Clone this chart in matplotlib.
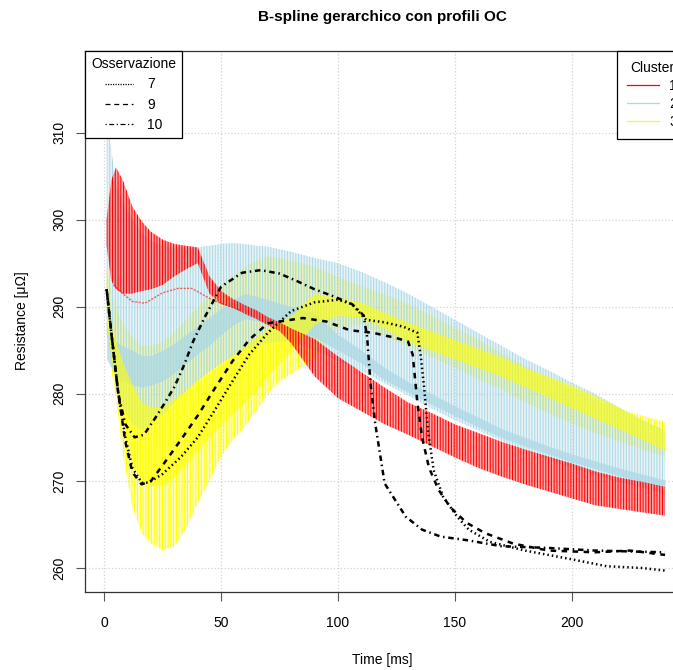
import matplotlib
matplotlib.use("Agg")
import matplotlib.pyplot as plt
from matplotlib.colors import to_rgba
from matplotlib.lines import Line2D

plt.rcParams["font.family"] = ["Liberation Sans", "DejaVu Sans"]
plt.rcParams["hatch.linewidth"] = 0.75

# common time grid for the cluster envelopes (ms)
t_grid = [1, 3, 5, 8, 12, 16, 20, 25, 30, 35, 40, 45, 50, 55, 60, 65, 70, 75, 80,
          90, 100, 110, 120, 130, 140, 150, 160, 170, 180, 190, 200, 210, 220, 230, 240]

# cluster 1 (red)
c1_lo = [297, 293, 292, 291.5, 291.5, 291.8, 292, 292.5, 293.5, 294.3, 295, 291.5, 290.3, 289.9,
         289.2, 288.6, 287.9, 287.2, 285.8, 282, 279.5, 278, 276.5, 275.3, 274, 272.7, 271.5, 270.5,
         269.6, 268.8, 268, 267.2, 266.8, 266.4, 266]
c1_hi = [300, 304.5, 306, 304.5, 301.5, 299.8, 298.6, 297.7, 297.2, 297, 296.8, 293.5, 291.8, 290.9,
         290.2, 289.6, 288.8, 288.2, 287.5, 286.3, 284.3, 282.5, 280.7, 279, 277.8, 276.5, 275.5,
         274.5, 273.6, 272.8, 272, 271.1, 270.4, 269.9, 269.3]
# thin red trace running under the early red block
c1_line_t = [4, 7.5, 12, 17.5, 25, 31.5, 37.5, 46, 58]
c1_line_y = [292.5, 291.6, 290.6, 290.4, 291.6, 292.1, 292.1, 290.8, 289.6]

# cluster 2 (light blue)
c2_lo = [287, 284, 281, 278.5, 276.5, 275.8, 276.5, 277.5, 279, 280.3, 281.5, 282.5, 283.5, 284.3,
         285, 285.5, 285.8, 286, 286, 285, 283.8, 282.6, 281.2, 279.8, 278.3, 277, 275.8, 274.6,
         273.5, 272.5, 271.5, 270.7, 269.9, 269.2, 268.5]
c2_hi = [312, 308, 304, 302, 300, 298.5, 297.5, 297, 296.8, 296.8, 296.8, 297, 297.2, 297.3, 297.2,
         297, 296.9, 296.6, 296.3, 295.6, 295, 294, 292.8, 291.5, 290, 288.5, 287, 285.5, 284,
         282.7, 281.3, 280, 278.5, 277, 275.8]
c2_core_lo = [284, 283, 282, 281.5, 281, 280.8, 281, 281.5, 282.4, 283.5, 284.6, 285.6, 286.8, 287.9,
              288.6, 288.4, 288, 287.6, 287.2, 286.5, 285, 283.5, 281.6, 280.2, 278.8, 277.5, 276.2,
              275, 274, 273.1, 272.2, 271.4, 270.6, 269.9, 269.2]
c2_core_hi = [288, 287, 286, 285.5, 285, 284.4, 284.4, 285, 285.8, 286.8, 287.8, 288.8, 289.8, 290.8,
              291.5, 291.2, 290.8, 290.4, 290, 289.2, 286.8, 285, 283, 281.4, 280, 278.6, 277.3, 276,
              275, 274, 273.1, 272.3, 271.5, 270.8, 270.1]

# cluster 3 (yellow)
c3_lo = [290, 283, 279.5, 273, 267, 264, 262.8, 262, 262.5, 264.5, 267.5, 270, 272.8, 274.7, 276.2,
         278, 280, 281.4, 282.3, 284, 287.5, 288, 286.5, 285.5, 284.2, 283, 281.7, 280.5, 279,
         277.8, 276.6, 275.5, 274.5, 273.6, 272.8]
c3_hi = [294.5, 292, 290, 288, 286.5, 285.5, 285.5, 286, 287, 288.5, 290, 291.2, 292.5, 293.5, 294.5,
         295.3, 295.8, 295.6, 295.3, 294.6, 293.4, 292.4, 291.4, 290.3, 289, 287.6, 286.2, 284.7,
         283.2, 281.8, 280.5, 279.2, 278.3, 277.5, 276.8]
c3_core_lo = [288, 284, 281, 277, 272, 270, 269.5, 269.5, 270.5, 272, 273.5, 275, 276.5, 277.8, 279,
              280.5, 282, 283.5, 285, 288, 289, 288.8, 287.5, 286, 285, 284, 283, 282, 280.8, 279.6,
              278.4, 277.2, 276, 274.8, 273.5]
c3_core_hi = [291, 288, 286, 283.5, 281, 279, 278.5, 278.5, 279.5, 280.5, 281.5, 282.5, 283.5, 284.5,
              285.5, 286.5, 287.5, 288.3, 289, 291.5, 291, 290.5, 289.3, 288.2, 287.2, 286.2, 285.2,
              284.2, 283, 282, 281, 279.8, 278.5, 277, 275.8]

# observations
t_obs7 = [1, 3, 6, 9, 12, 16, 19, 25, 33, 40, 47, 55, 62, 70, 80, 90, 100, 106, 112, 120, 128, 134,
          135.5, 137, 138.5, 141, 145, 151, 156, 165, 180, 200, 215, 230, 240]
y_obs7 = [292, 287, 280, 275, 271.5, 269.8, 269.8, 270.8, 272.8, 275, 278, 281.5, 284.5, 287, 289.5,
          290.5, 290.8, 290.3, 288.5, 288.2, 287.7, 287, 284.2, 280.4, 275.8, 271.2, 268.2, 265.9,
          264.4, 263, 262, 261, 260.2, 260, 259.7]
t_obs9 = [1, 3, 6, 9, 12, 16, 20, 25, 33, 40, 47, 55, 62, 70, 85, 95, 105, 115, 125, 130, 132, 134,
          136, 139, 143, 148, 155, 163, 175, 190, 210, 225, 240]
y_obs9 = [292, 287, 280, 274.5, 271, 269.6, 270, 271.8, 274.8, 277.5, 280.5, 283.8, 286.2, 288.1,
          288.7, 288.3, 287.3, 287, 286.4, 286, 284.5, 279, 275, 271.5, 269, 267, 265.2, 264, 262.8,
          262, 261.8, 262, 261.5]
t_obs10 = [1, 3, 6, 9, 13, 17, 22, 26, 30, 34, 38, 43, 50, 59, 67, 75, 82, 90, 98, 106, 111, 112.5,
           114, 116, 120, 129, 136, 144, 155, 170, 190, 210, 240]
y_obs10 = [292, 287, 280, 276.5, 275, 275.3, 277.3, 279, 280.8, 283.2, 286, 288.8, 292.3, 293.9,
           294.2, 293.8, 293, 292, 291.2, 290.3, 289, 286.5, 281, 276.5, 269.7, 265.9, 264.4, 263.6,
           263.2, 262.5, 262.3, 262, 261.8]

obs_labels = ["7", "9", "10"]
cluster_labels = ["1", "2", "3"]


def band(ax, lo, hi, color, face_alpha, hatch, z):
    # striped band: light face plus vertical hatch in the cluster colour
    ax.fill_between(t_grid, lo, hi, facecolor=to_rgba(color, face_alpha),
                    edgecolor=to_rgba(color, 1.0), hatch=hatch, linewidth=0, zorder=z)


fig = plt.figure(figsize=(6.73, 6.70), dpi=100)
ax = fig.add_axes([0.1263, 0.1164, 0.8945, 0.8075])

band(ax, c3_lo, c3_hi, "yellow", 0.25, "||||||", 1)
band(ax, c2_lo, c2_hi, "lightblue", 0.3, "||||||", 2)
ax.fill_between(t_grid, c2_core_lo, c2_core_hi, color="lightblue", alpha=0.75, lw=0, zorder=3)
ax.fill_between(t_grid, c3_core_lo, c3_core_hi, color="yellow", alpha=0.6, lw=0, zorder=4)
band(ax, c1_lo, c1_hi, "red", 0.35, "||||||", 5)
ax.plot(c1_line_t, c1_line_y, color="red", lw=1.0, alpha=0.6, linestyle=(0, (1.5, 1)), zorder=5)

ax.plot(t_obs7, y_obs7, color="black", lw=1.8, linestyle=(0, (0.6, 1.2)), zorder=6)
ax.plot(t_obs9, y_obs9, color="black", lw=1.8, linestyle=(0, (2.2, 2.2)), zorder=6)
ax.plot(t_obs10, y_obs10, color="black", lw=1.8, linestyle=(0, (0.6, 1.5, 2.2, 1.5)), zorder=6)

ax.set_xlim(-8.26, 249.4)
ax.set_ylim(257.24, 319.36)
ax.set_xticks([0, 50, 100, 150, 200])
ax.set_yticks([260, 270, 280, 290, 300, 310])
ax.set_yticklabels(["260", "270", "280", "290", "300", "310"], rotation=90, va="center")
ax.tick_params(axis="both", length=6.5, width=0.8, color="#555555", labelsize=10)
ax.tick_params(axis="x", pad=11)
ax.tick_params(axis="y", pad=7)
ax.grid(color="lightgray", linestyle=":", linewidth=0.9)
ax.set_axisbelow(True)
for s in ax.spines.values():
    s.set_linewidth(0.9)
    s.set_color("#333333")

obs_handles = [
    Line2D([], [], color="black", lw=0.9, linestyle=(0, (1, 1))),
    Line2D([], [], color="black", lw=0.9, linestyle=(0, (4, 3))),
    Line2D([], [], color="black", lw=0.9, linestyle=(0, (1, 2, 4, 2))),
]
leg1 = ax.legend(obs_handles, obs_labels, title="Osservazione", loc="upper left",
                 fancybox=False, framealpha=1, edgecolor="black", borderaxespad=0,
                 handlelength=2.0, handletextpad=1.0, fontsize=10, title_fontsize=10,
                 borderpad=0.45, labelspacing=0.45)
leg1.get_frame().set_linewidth(0.9)
leg1.set_zorder(10)
ax.add_artist(leg1)

cl_handles = [
    Line2D([], [], color="red", lw=0.9),
    Line2D([], [], color="lightblue", lw=0.9),
    Line2D([], [], color="yellow", lw=0.9),
]
leg2 = ax.legend(cl_handles, cluster_labels, title="Cluster", loc="upper right",
                 fancybox=False, framealpha=1, edgecolor="black", borderaxespad=0,
                 handlelength=2.3, handletextpad=0.75, fontsize=10, title_fontsize=10,
                 borderpad=0.7, labelspacing=0.3)
leg2.get_frame().set_linewidth(0.9)
leg2.set_zorder(10)

fig.text(382 / 673, 1 - 17 / 670, "B-spline gerarchico con profili OC",
         ha="center", va="center", fontsize=11, fontweight="bold")
fig.text(382 / 673, 1 - 660 / 670, "Time [ms]", ha="center", va="center", fontsize=10)
fig.text(22 / 673, 1 - 321 / 670, "Resistance [μΩ]", ha="center", va="center",
         fontsize=10, rotation=90)

fig.savefig("out.png", dpi=100)
